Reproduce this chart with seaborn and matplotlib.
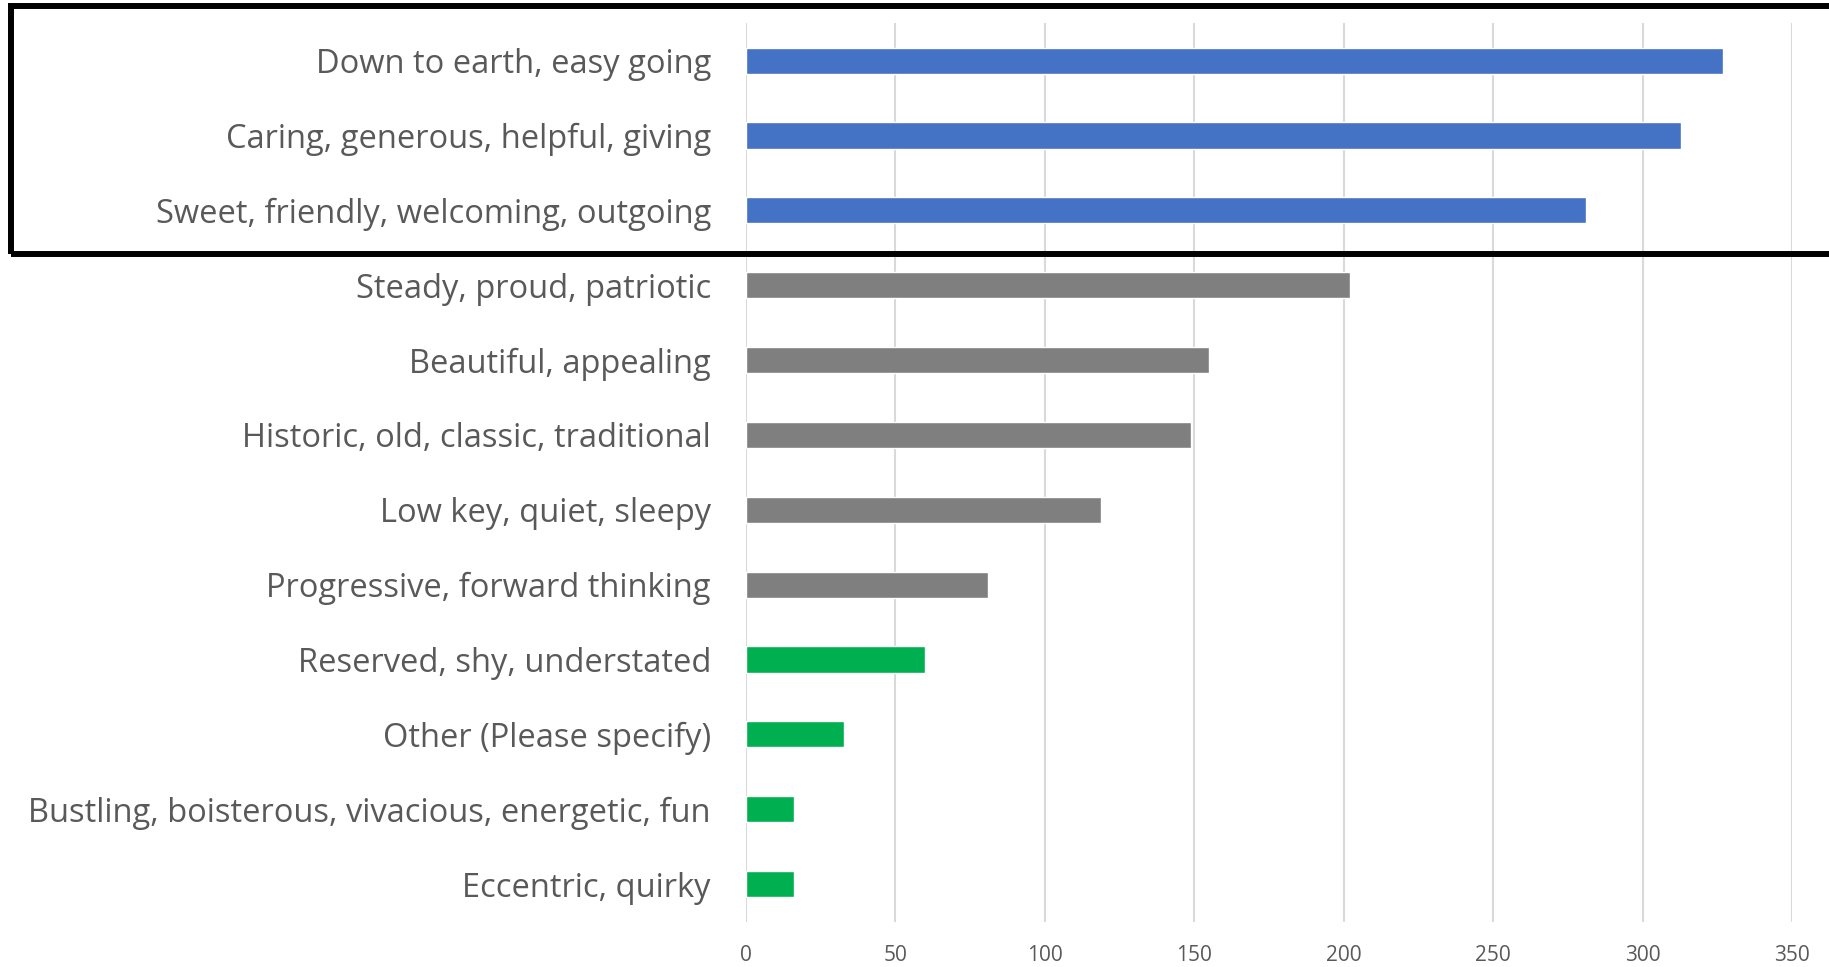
import matplotlib
matplotlib.use("Agg")
import matplotlib.pyplot as plt
import seaborn as sns
import pandas as pd
from matplotlib.patches import Rectangle

# Survey answers, top to bottom
labels = [
    "Down to earth, easy going",
    "Caring, generous, helpful, giving",
    "Sweet, friendly, welcoming, outgoing",
    "Steady, proud, patriotic",
    "Beautiful, appealing",
    "Historic, old, classic, traditional",
    "Low key, quiet, sleepy",
    "Progressive, forward thinking",
    "Reserved, shy, understated",
    "Other (Please specify)",
    "Bustling, boisterous, vivacious, energetic, fun",
    "Eccentric, quirky",
]
counts = [327, 313, 281, 202, 155, 149, 119, 81, 60, 33, 16, 16]
groups = ["top"] * 3 + ["middle"] * 5 + ["bottom"] * 4
group_colors = {"top": "#4472C4", "middle": "#7F7F7F", "bottom": "#00B050"}
x_ticks = [0, 50, 100, 150, 200, 250, 300, 350]

df = pd.DataFrame({"label": labels, "count": counts, "group": groups})
bar_colors = [group_colors[g] for g in groups]

sns.set_style("white")
plt.rcParams["font.family"] = ["Open Sans", "DejaVu Sans"]

fig = plt.figure(figsize=(18.29, 9.67), dpi=100)
ax = fig.add_axes([0.4077, 0.047, 0.5721, 0.929])

sns.barplot(data=df, x="count", y="label", hue="label", palette=bar_colors,
            legend=False, width=0.35, saturation=1, ax=ax)

ax.set_xlim(0, 350)
ax.set_ylim(len(labels) - 0.5, -0.5)
ax.set_xticks(x_ticks)
ax.set_xlabel("")
ax.set_ylabel("")
ax.set_axisbelow(True)
ax.xaxis.grid(True, color="#D9D9D9", linewidth=1.5)
ax.yaxis.grid(False)
for s in ax.spines.values():
    s.set_visible(False)
ax.tick_params(axis="y", length=0, pad=25, labelsize=23.5, labelcolor="#595959")
ax.tick_params(axis="x", length=0, pad=17, labelsize=15, labelcolor="#595959")

# highlight box around the top three answers
fig.patches.append(Rectangle((11 / 1829, 1 - 254 / 967), 1.05, (254 - 5.5) / 967,
                             transform=fig.transFigure, fill=False,
                             edgecolor="black", linewidth=4.3, clip_on=False))

fig.savefig("out.png", dpi=100)
